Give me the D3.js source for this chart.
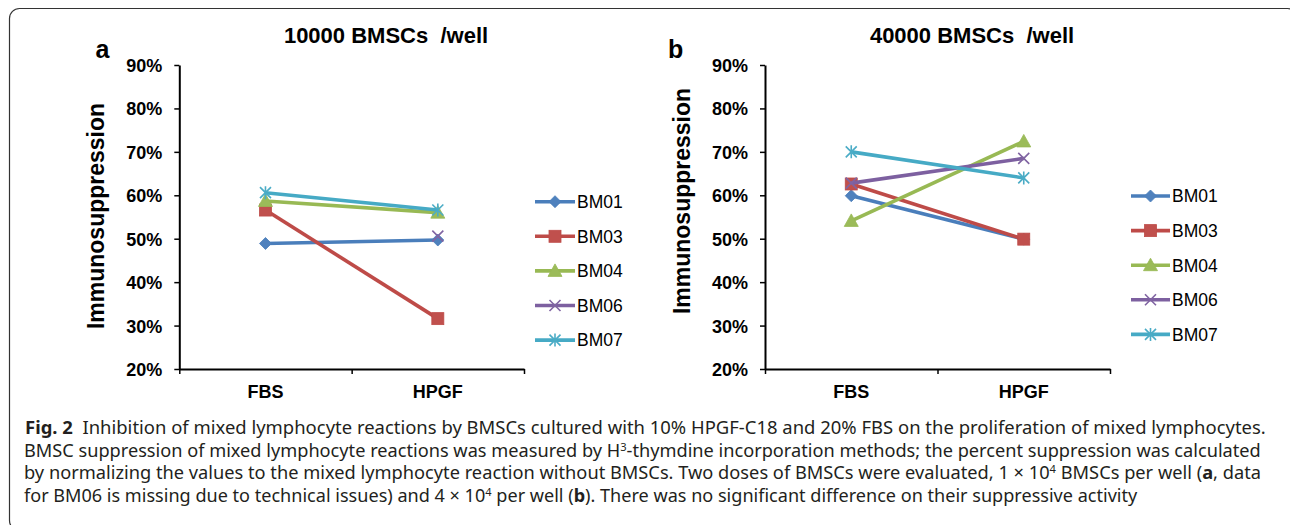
<!DOCTYPE html>
<html>
<head>
<meta charset="utf-8">
<script src="https://cdn.jsdelivr.net/npm/d3@7"></script>
<style>
  html, body { margin: 0; padding: 0; background: #fff; }
  svg { display: block; }
  .chart text { font-family: "Liberation Sans", Arial, sans-serif; fill: #000; }
  .caption text { font-family: "Noto Sans", "Open Sans", sans-serif; fill: #231f20; font-size: 18px; white-space: pre; }
</style>
</head>
<body>
<svg id="fig" width="1290" height="525"></svg>
<script>
// ---- data ----
const categories = ["FBS", "HPGF"];
const seriesNames = ["BM01", "BM03", "BM04", "BM06", "BM07"];
const yTicks = [0.2, 0.3, 0.4, 0.5, 0.6, 0.7, 0.8, 0.9];

// one row per series, one column per category (null = missing)
const valuesA = [
  [0.489, 0.497], // BM01
  [0.566, 0.316], // BM03
  [0.587, 0.560], // BM04
  [null, 0.506],  // BM06
  [0.606, 0.566], // BM07
];
const valuesB = [
  [0.599, 0.499], // BM01
  [0.626, 0.499], // BM03
  [0.541, 0.724], // BM04
  [0.628, 0.685], // BM06
  [0.700, 0.640], // BM07
];

const titleA = "10000 BMSCs  /well";
const titleB = "40000 BMSCs  /well";
const yTitle = "Immunosuppression";

const captionLines = [
  [{ t: "Fig. 2", b: true }, { t: "  Inhibition of mixed lymphocyte reactions by BMSCs cultured with 10% HPGF-C18 and 20% FBS on the proliferation of mixed lymphocytes." }],
  [{ t: "BMSC suppression of mixed lymphocyte reactions was measured by H" }, { t: "3", sup: true }, { t: "-thymdine incorporation methods; the percent suppression was calculated" }],
  [{ t: "by normalizing the values to the mixed lymphocyte reaction without BMSCs. Two doses of BMSCs were evaluated, 1 \u00d7 10" }, { t: "4", sup: true }, { t: " BMSCs per well (" }, { t: "a", b: true }, { t: ", data" }],
  [{ t: "for BM06 is missing due to technical issues) and 4 \u00d7 10" }, { t: "4", sup: true }, { t: " per well (" }, { t: "b", b: true }, { t: "). There was no significant difference on their suppressive activity" }],
];

// ---- styles ----
const seriesStyles = [
  { line: "#4A7EBB", fill: "#4F81BD", marker: "diamond" },
  { line: "#BE4B48", fill: "#C0504D", marker: "square" },
  { line: "#98B954", fill: "#9BBB59", marker: "triangle" },
  { line: "#7D60A0", fill: "#8064A2", marker: "x" },
  { line: "#46AAC5", fill: "#4BACC6", marker: "star" },
];

const svg = d3.select("#fig");

// frame round the figure
svg.append("rect")
  .attr("x", 9.5).attr("y", 8.5)
  .attr("width", 1288).attr("height", 522)
  .attr("rx", 10)
  .attr("fill", "none")
  .attr("stroke", "#333")
  .attr("stroke-width", 1.2);

function drawMarker(g, type, st) {
  if (type === "diamond") {
    g.append("path").attr("d", "M0,-6L6,0L0,6L-6,0Z").attr("fill", st.fill).attr("stroke", st.line).attr("stroke-width", 0.8);
  } else if (type === "square") {
    g.append("rect").attr("x", -6).attr("y", -6).attr("width", 12).attr("height", 12)
      .attr("fill", st.fill).attr("stroke", st.line).attr("stroke-width", 0.8);
  } else if (type === "triangle") {
    g.append("path").attr("d", "M0,-7L7,5.5L-7,5.5Z").attr("fill", st.fill).attr("stroke", st.line).attr("stroke-width", 0.8);
  } else {
    const s = 5.5;
    let d = `M${-s},${-s}L${s},${s}M${-s},${s}L${s},${-s}`;
    if (type === "star") d += `M0,${-s - 1}L0,${s + 1}`;
    g.append("path").attr("d", d).attr("fill", "none").attr("stroke", st.fill).attr("stroke-width", 1.6);
  }
}

class LinePanel {
  constructor({ values, title, tag, layout }) {
    this.values = values;
    this.title = title;
    this.tag = tag;
    this.layout = layout;
    this.render();
  }

  render() {
    const L = this.layout;
    const g = svg.append("g").attr("class", "chart");

    const x = d3.scaleBand().domain(categories).range([L.x0, L.x1]);
    const y = d3.scaleLinear().domain([0.2, 0.9]).range([L.yBottom, L.yTop]);
    const cx = (c) => x(c) + x.bandwidth() / 2;

    // y axis
    g.append("g")
      .attr("transform", `translate(${L.x0},0)`)
      .call(d3.axisLeft(y).tickValues(yTicks).tickFormat(d3.format(".0%")).tickSize(5).tickSizeOuter(0).tickPadding(12))
      .call((a) => a.select(".domain").attr("stroke-width", 2))
      .call((a) => a.selectAll(".tick line").attr("stroke-width", 1.5))
      .call((a) => a.selectAll("text").attr("font-size", 18).attr("font-weight", "bold").attr("dy", "0.36em"));

    // x axis: ticks at category boundaries, labels centred on categories
    const edges = d3.scaleLinear().domain([0, categories.length]).range([L.x0, L.x1]);
    g.append("g")
      .attr("transform", `translate(0,${L.yBottom})`)
      .call(d3.axisBottom(edges).ticks(categories.length).tickFormat("").tickSize(5).tickSizeOuter(0))
      .call((a) => a.select(".domain").attr("stroke-width", 2))
      .call((a) => a.selectAll(".tick line").attr("stroke-width", 1.5));
    g.append("g")
      .attr("transform", `translate(0,${L.yBottom})`)
      .call(d3.axisBottom(x).tickSize(0))
      .call((a) => a.select(".domain").remove())
      .call((a) => a.selectAll("text").attr("y", 29).attr("dy", null).attr("font-size", 18).attr("font-weight", "bold"));

    // titles
    g.append("text")
      .attr("x", L.titleX).attr("y", 43)
      .attr("text-anchor", "middle")
      .attr("font-size", 22).attr("font-weight", "bold")
      .style("white-space", "pre")
      .text(this.title);
    g.append("text")
      .attr("x", L.tagX).attr("y", 58)
      .attr("font-size", 25).attr("font-weight", "bold")
      .text(this.tag);
    g.append("text")
      .attr("transform", `translate(${L.yTitleX},${L.yTitleY}) rotate(-90)`)
      .attr("text-anchor", "middle")
      .attr("dy", "0.36em")
      .attr("font-size", 23).attr("font-weight", "bold")
      .text(yTitle);

    // series
    const series = seriesNames.map((name, i) => ({
      name,
      style: seriesStyles[i],
      points: categories.map((c, j) => ({ c, v: this.values[i][j] })),
    }));

    const line = d3.line()
      .defined((d) => d.v != null)
      .x((d) => cx(d.c))
      .y((d) => y(d.v));

    const sg = g.selectAll(".series")
      .data(series)
      .join("g")
      .attr("class", "series");

    sg.append("path")
      .attr("d", (d) => line(d.points))
      .attr("fill", "none")
      .attr("stroke", (d) => d.style.line)
      .attr("stroke-width", 3.6);

    sg.each(function (d) {
      d3.select(this).selectAll(".pt")
        .data(d.points.filter((p) => p.v != null))
        .join("g")
        .attr("class", "pt")
        .attr("transform", (p) => `translate(${cx(p.c)},${y(p.v)})`)
        .each(function () { drawMarker(d3.select(this), d.style.marker, d.style); });
    });

    // legend
    const lg = g.selectAll(".legend")
      .data(series)
      .join("g")
      .attr("class", "legend")
      .attr("transform", (d, i) => `translate(${L.legendX},${L.legendY + i * L.legendStep})`);
    lg.append("line")
      .attr("x1", 0).attr("x2", L.legendLine)
      .attr("stroke", (d) => d.style.line)
      .attr("stroke-width", 3.6);
    lg.append("g")
      .attr("transform", `translate(${L.legendLine / 2},0)`)
      .each(function (d) { drawMarker(d3.select(this), d.style.marker, d.style); });
    lg.append("text")
      .attr("x", L.legendLine + 2)
      .attr("dy", "0.36em")
      .attr("font-size", 17.5)
      .text((d) => d.name);
  }
}

new LinePanel({
  values: valuesA,
  title: titleA,
  tag: "a",
  layout: {
    x0: 179.3, x1: 524, yTop: 65, yBottom: 369,
    titleX: 386, tagX: 95.5, yTitleX: 96, yTitleY: 216,
    legendX: 535, legendY: 201.7, legendStep: 34.6, legendLine: 40,
  },
});

new LinePanel({
  values: valuesB,
  title: titleB,
  tag: "b",
  layout: {
    x0: 765, x1: 1110, yTop: 65, yBottom: 369,
    titleX: 972, tagX: 668, yTitleX: 682, yTitleY: 201,
    legendX: 1131, legendY: 196, legendStep: 34.6, legendLine: 39,
  },
});

// caption, each line stretched to the width it has in the figure
const capStarts = [25, 24, 24, 24];
const capEnds = [1267, 1262, 1262, 1138];
const capBase = [434, 456.5, 479, 501.5];
const cap = svg.append("g").attr("class", "caption");
captionLines.forEach((segs, i) => {
  const lg = cap.append("g").attr("transform", `translate(${capStarts[i]},${capBase[i]})`);
  const t = lg.append("text").attr("x", 0).attr("y", 0);
  let shifted = false;
  segs.forEach((s) => {
    const ts = t.append("tspan").text(s.t);
    if (s.b) ts.attr("font-weight", "bold");
    if (s.sup) {
      ts.attr("font-size", 11).attr("dy", -6);
      shifted = true;
    } else if (shifted) {
      ts.attr("dy", 6);
      shifted = false;
    }
  });
  const w = t.node().getComputedTextLength();
  const sx = (capEnds[i] - capStarts[i]) / w;
  lg.attr("transform", `translate(${capStarts[i]},${capBase[i]}) scale(${sx},1)`);
});
</script>
</body>
</html>
